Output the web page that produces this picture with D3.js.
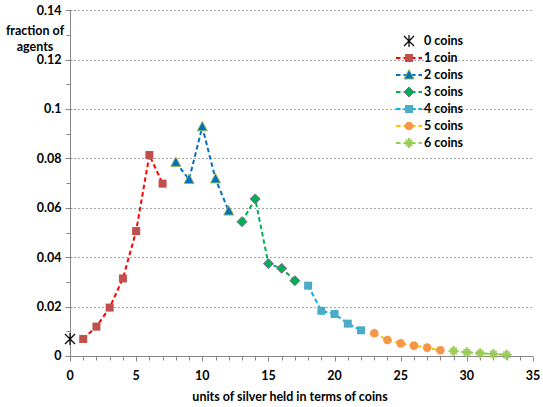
<!DOCTYPE html>
<html><head><meta charset="utf-8">
<script src="https://cdn.jsdelivr.net/npm/d3@7"></script>
<style>
body{margin:0;background:#fff;}
svg text{font-family:Lato,"Open Sans",sans-serif;font-weight:700;fill:#000;}
</style></head>
<body><svg id="c" width="543" height="407"></svg>
<script>
const xTicks = [0,5,10,15,20,25,30,35];
const yTicks = [0,0.02,0.04,0.06,0.08,0.1,0.12,0.14];
const yTickLabels = ["0","0.02","0.04","0.06","0.08","0.1","0.12","0.14"];
const seriesNames = ["0 coins","1 coin","2 coins","3 coins","4 coins","5 coins","6 coins"];
const x0 = [0];            const y0 = [0.0069];
const x1 = [1,2,3,4,5,6,7]; const y1 = [0.0069,0.0119,0.0196,0.0314,0.0506,0.0814,0.0698];
const x2 = [8,9,10,11,12];  const y2 = [0.0784,0.0715,0.0928,0.0717,0.0587];
const x3 = [13,14,15,16,17]; const y3 = [0.0544,0.0636,0.0374,0.0355,0.0305];
const x4 = [18,19,20,21,22]; const y4 = [0.0285,0.0183,0.0170,0.0131,0.0104];
const x5 = [23,24,25,26,27,28]; const y5 = [0.0092,0.0065,0.0051,0.0042,0.0034,0.0023];
const x6 = [29,30,31,32,33]; const y6 = [0.0020,0.0015,0.0011,0.0008,0.0005];

const svg = d3.select("#c");
const x = d3.scaleLinear().domain([0,35]).range([70,533]);
const y = d3.scaleLinear().domain([0,0.14]).range([356,10.3]);

// gridlines
svg.append("g").selectAll("line").data(yTicks.slice(1)).join("line")
  .attr("x1",70).attr("x2",533).attr("y1",d=>Math.round(y(d))+0.5).attr("y2",d=>Math.round(y(d))+0.5)
  .attr("stroke","#a6a6a6").attr("stroke-dasharray","2,2").attr("stroke-width",1);

// y axis
const ya = svg.append("g").attr("transform","translate(70.5,0)");
ya.append("line").attr("y1",y(0.14)).attr("y2",y(0)).attr("stroke","#868686");
const yMinor = d3.range(0,0.1401,0.01);
ya.selectAll("line.t").data(yMinor).join("line").attr("class","t")
  .attr("x1",(d,i)=>i%2===0?-5:-4).attr("x2",(d,i)=>i%2===0?2:0)
  .attr("y1",d=>Math.round(y(d))+0.5).attr("y2",d=>Math.round(y(d))+0.5).attr("stroke","#868686");
ya.selectAll("text").data(yTicks).join("text")
  .attr("x",-9).attr("y",d=>y(d)).attr("dy","0.35em").attr("text-anchor","end")
  .attr("font-size",12.5).text((d,i)=>yTickLabels[i]);

// x axis
const xa = svg.append("g").attr("transform","translate(0,"+(Math.round(y(0))+0.5)+")");
xa.append("line").attr("x1",70).attr("x2",533).attr("stroke","#868686");
xa.selectAll("line.t").data(d3.range(0,36)).join("line").attr("class","t")
  .attr("x1",d=>Math.round(x(d))+0.5).attr("x2",d=>Math.round(x(d))+0.5)
  .attr("y1",0).attr("y2",d=>d%5===0?5:4).attr("stroke","#868686");
xa.selectAll("text").data(xTicks).join("text")
  .attr("x",d=>x(d)).attr("y",23).attr("text-anchor","middle").attr("font-size",12.5).text(d=>d);

// titles
svg.append("text").attr("x",35).attr("y",35).attr("text-anchor","middle").attr("font-size",12.5).text("fraction of");
svg.append("text").attr("x",35).attr("y",51).attr("text-anchor","middle").attr("font-size",12.5).text("agents");
svg.append("text").attr("x",290).attr("y",401).attr("text-anchor","middle").attr("font-size",12.5).text("units of silver held in terms of coins");

const styles = [
  {line:"none", mark:"star"},
  {line:"#ff0000", mark:"square", fill:"#c0504d", stroke:"#c0504d"},
  {line:"#0070c0", mark:"triangle", fill:"#0070c0", stroke:"#9bbb59"},
  {line:"#00b050", mark:"diamond", fill:"#00b050", stroke:"#8064a2"},
  {line:"#00b0f0", mark:"square", fill:"#4bacc6", stroke:"#4bacc6"},
  {line:"#ffc000", mark:"circle", fill:"#f79646", stroke:"#f79646"},
  {line:"#92d050", mark:"plus", fill:"#9bbb59", stroke:"#92d050"}
];
const xs=[x0,x1,x2,x3,x4,x5,x6], ys=[y0,y1,y2,y3,y4,y5,y6];

function marker(g, st, cx, cy){
  if(st.mark==="star"){
    g.append("path").attr("d",`M${cx-5},${cy-5}L${cx+5},${cy+5}M${cx-5},${cy+5}L${cx+5},${cy-5}M${cx},${cy-6}L${cx},${cy+6}`)
      .attr("stroke","#000").attr("stroke-width",1.2);
  } else if(st.mark==="square"){
    g.append("rect").attr("x",cx-4).attr("y",cy-4).attr("width",8).attr("height",8).attr("fill",st.fill);
  } else if(st.mark==="triangle"){
    g.append("path").attr("d",`M${cx},${cy-5.5}L${cx+5},${cy+4}L${cx-5},${cy+4}Z`).attr("fill",st.fill).attr("stroke",st.stroke).attr("stroke-width",1);
  } else if(st.mark==="diamond"){
    g.append("path").attr("d",`M${cx},${cy-5}L${cx+5},${cy}L${cx},${cy+5}L${cx-5},${cy}Z`).attr("fill",st.fill).attr("stroke",st.stroke).attr("stroke-width",1);
  } else if(st.mark==="circle"){
    g.append("circle").attr("cx",cx).attr("cy",cy).attr("r",4.3).attr("fill",st.fill);
  } else if(st.mark==="plus"){
    g.append("rect").attr("x",cx-3.5).attr("y",cy-3.5).attr("width",7).attr("height",7).attr("fill",st.fill).attr("opacity",0.8);
    g.append("path").attr("d",`M${cx-5},${cy}L${cx+5},${cy}M${cx},${cy-5}L${cx},${cy+5}`).attr("stroke",st.stroke).attr("stroke-width",2);
  }
}

const line = d3.line().x(d=>x(d[0])).y(d=>y(d[1]));
styles.forEach((st,i)=>{
  const pts = xs[i].map((v,j)=>[v,ys[i][j]]);
  const g = svg.append("g");
  if(st.line!=="none") g.append("path").attr("d",line(pts)).attr("fill","none").attr("stroke",st.line)
      .attr("stroke-width",2).attr("stroke-dasharray","4.5,3");
  pts.forEach(p=>marker(g,st,x(p[0]),y(p[1])));
});

// legend
const lg = svg.append("g");
seriesNames.forEach((n,i)=>{
  const cy = 41 + i*17;
  const st = styles[i];
  if(st.line!=="none") lg.append("line").attr("x1",396).attr("x2",422).attr("y1",cy).attr("y2",cy)
     .attr("stroke",st.line).attr("stroke-width",2).attr("stroke-dasharray","4.5,3");
  marker(lg,st,409,cy);
  lg.append("text").attr("x",424).attr("y",cy).attr("dy","0.35em").attr("font-size",12.5).text(n);
});
</script></body></html>
